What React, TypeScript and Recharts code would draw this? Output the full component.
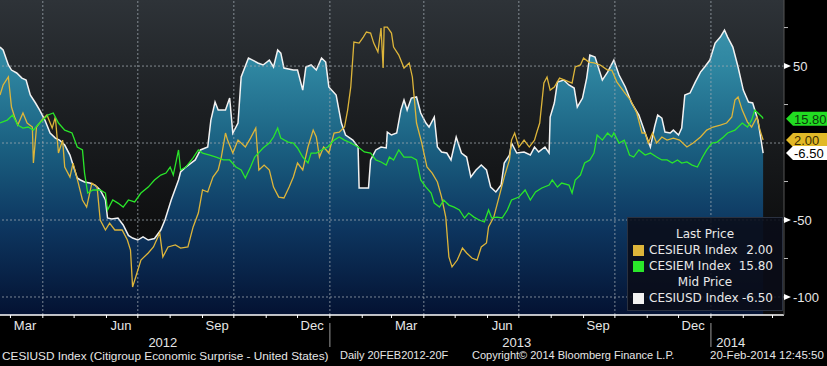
import React from "react";
import { ComposedChart, Area, Line, XAxis, YAxis, CartesianGrid, ReferenceLine } from "recharts";

// x values are days counted from 20 Feb 2012
const CESIUSD: [number, number][] = [
  [0, 62.3], [3, 60.4], [8, 50.7], [11, 47.4], [16, 45.5], [21, 42.2], [25, 40.9], [29, 31.2], [34, 26.0], [38, 21.4],
  [43, 14.9], [48, 6.5], [53, 3.2], [57, 1.9], [62, -1.3], [67, -7.8], [70, -14.3], [74, -22.7], [77, -24.0], [81, -25.3],
  [86, -26.0], [91, -27.3], [96, -30.5], [101, -37.0], [103, -48.7], [107, -49.4], [113, -48.7], [118, -53.2], [123, -60.0],
  [127, -61.7], [132, -63.0], [137, -61.0], [142, -63.0], [148, -62.0], [154, -56.5], [158, -50.0], [164, -37.0], [171, -24.0],
  [173, -18.8], [178, -15.6], [187, -11.0], [192, -4.5], [199, -2.6], [202, 14.9], [206, 26.6], [209, 21.4], [216, 21.4],
  [220, 29.2], [223, 6.5], [228, 13.0], [231, 42.9], [238, 55.2], [242, 53.9], [247, 52.0], [252, 50.7], [258, 53.9],
  [262, 49.4], [266, 60.4], [269, 58.4], [272, 48.7], [281, 47.4], [285, 47.4], [290, 34.4], [293, 49.4], [298, 50.7],
  [303, 47.4], [308, 55.2], [312, 52.6], [315, 36.4], [322, 31.2], [327, 13.0], [331, 5.2], [338, 1.9], [343, -2.6],
  [344, -29.2], [353, -29.2], [355, -11.0], [360, -4.5], [365, -2.6], [370, -3.2], [371, 7.1], [375, 5.2], [380, 6.5],
  [384, 21.4], [387, 27.9], [390, 21.4], [394, 29.2], [399, 29.9], [403, 19.5], [408, 13.0], [411, 10.4], [416, 16.9],
  [419, -2.6], [423, -5.8], [428, -6.5], [432, -11.0], [437, 3.9], [442, -6.5], [447, -9.1], [451, -22.1], [456, -17.5],
  [461, -14.3], [466, -17.5], [470, -28.6], [475, -31.8], [480, -27.3], [483, -13.0], [488, -7.8], [490, 0], [495, -6.5],
  [502, -5.8], [508, -7.8], [512, -2.6], [516, -5.8], [522, -2.6], [526, -6.5], [527, 16.9], [531, 26.0], [534, 39.6],
  [540, 40.9], [545, 37.7], [550, 35.7], [553, 23.4], [558, 29.2], [562, 42.2], [565, 57.1], [570, 55.8], [577, 40.9],
  [582, 46.1], [588, 53.9], [593, 44.2], [599, 36.4], [605, 26.0], [612, 18.2], [618, 6.5], [623, -2.6], [627, 10.4],
  [630, 18.2], [634, 16.2], [637, 7.1], [642, 6.5], [645, 8.4], [650, 5.2], [653, 9.7], [656, 31.2], [661, 32.5],
  [666, 39.6], [671, 46.1], [675, 49.4], [680, 53.9], [685, 64.9], [690, 68.8], [694, 73.4], [697, 68.8], [702, 62.3],
  [707, 49.4], [712, 34.4], [717, 26.6], [721, 26.0], [726, 14.9], [731, -6.5],
];

const CESIEUR: [number, number][] = [
  [0, 31.2], [3, 37.7], [8, 42.9], [11, 23.4], [14, 16.9], [17, 11.7], [22, 19.5], [26, 13.0], [31, 10.4], [32, -13.0],
  [35, 10.4], [40, 14.9], [45, 18.2], [50, 9.7], [53, 16.9], [56, -6.5], [60, 1.9], [62, -15.6], [67, -22.1], [70, -13.0],
  [75, -26.0], [79, -37.0], [83, -41.6], [88, -26.0], [93, -28.6], [96, -50.0], [101, -56.5], [105, -52.0], [110, -56.5],
  [117, -56.5], [122, -63.0], [125, -69.5], [127, -93.5], [130, -87.0], [135, -76.0], [142, -71.4], [147, -67.5],
  [153, -58.4], [156, -74.0], [161, -67.5], [168, -66.2], [173, -68.2], [180, -67.5], [185, -54.5], [190, -45.5],
  [194, -30.5], [199, -31.8], [204, -22.1], [209, -17.5], [212, -9.1], [216, 6.5], [218, 1.9], [223, -6.5], [228, 1.9],
  [235, -2.6], [240, 3.2], [245, 9.7], [248, -17.5], [253, -14.3], [258, -17.5], [262, -28.6], [267, -35.1], [272, -35.7],
  [277, -28.6], [281, -22.1], [285, -13.0], [290, -17.5], [295, -2.6], [300, 8.4], [303, 3.9], [306, -9.1], [310, -2.6],
  [315, -6.5], [320, 6.5], [325, 7.1], [330, 10.4], [333, 21.4], [336, 36.4], [338, 55.8], [339, 65.6], [344, 64.9],
  [348, 68.8], [351, 72.1], [355, 71.4], [358, 64.9], [362, 59.1], [365, 74.7], [367, 48.7], [368, 75.3], [371, 75.3],
  [375, 71.4], [377, 62.3], [382, 57.1], [387, 48.7], [392, 52.0], [395, 42.9], [397, 27.9], [399, 13.0], [404, 0],
  [409, -15.6], [414, -19.5], [419, -25.3], [423, -35.1], [427, -48.1], [430, -74.0], [433, -80.5], [438, -76.0],
  [443, -68.2], [447, -71.4], [452, -74.7], [457, -76.0], [461, -67.5], [466, -64.9], [468, -54.5], [473, -48.1],
  [478, -35.1], [483, -22.1], [488, -11.0], [490, 1.9], [493, 6.5], [497, -2.6], [502, 1.9], [507, -2.6], [512, 1.9],
  [514, 6.5], [517, 13.0], [521, 39.0], [524, 42.9], [527, 34.4], [531, 36.4], [536, 42.2], [541, 40.9], [548, 39.0],
  [551, 49.4], [556, 50.7], [559, 55.2], [564, 52.6], [569, 52.0], [575, 50.7], [582, 47.4], [586, 47.4], [591, 39.6],
  [598, 33.1], [604, 27.9], [610, 19.5], [615, 6.5], [618, 6.5], [621, 0], [625, 6.5], [629, 0], [634, 3.9], [639, 1.9],
  [645, 3.2], [651, 1.9], [658, -2.6], [664, 0], [671, 3.9], [677, 8.4], [683, 10.4], [690, 11.7], [696, 13.0],
  [701, 16.9], [704, 27.9], [707, 29.9], [711, 21.4], [716, 13.6], [720, 10.4], [725, 16.9], [728, 8.4], [731, 2.0],
];

const CESIEM: [number, number][] = [
  [0, 13.0], [7, 14.9], [12, 18.2], [17, 11.7], [22, 9.7], [27, 10.4], [32, 8.4], [36, 11.7], [41, 14.9], [46, 18.2],
  [51, 19.5], [56, 13.0], [62, 8.4], [69, 6.5], [74, -2.6], [79, -4.5], [81, -19.5], [84, -32.5], [89, -30.5], [96, -30.5],
  [101, -32.5], [103, -43.5], [108, -37.0], [113, -39.0], [118, -41.6], [123, -37.0], [129, -38.3], [135, -32.5],
  [142, -28.6], [148, -24.0], [154, -20.8], [159, -19.5], [163, -15.6], [166, -20.8], [171, -4.5], [173, -17.5],
  [178, -15.6], [185, -9.7], [190, -4.5], [194, -6.5], [201, -7.8], [207, -9.1], [214, -11.0], [220, -11.0], [226, -15.6],
  [231, -17.5], [235, -22.7], [240, -15.6], [244, -9.1], [252, -3.2], [258, 0], [262, 3.9], [266, 9.7], [269, 3.2],
  [276, 0.6], [281, 0], [285, -3.2], [290, -9.1], [295, -13.0], [298, -6.5], [303, -6.5], [308, -4.5], [314, -2.6],
  [320, 1.9], [325, 3.9], [330, 1.9], [336, 0], [343, -2.6], [349, -5.8], [355, -6.5], [360, -11.0], [365, -12.3],
  [370, -14.3], [373, -9.1], [377, -11.0], [382, -4.5], [387, -9.1], [394, -9.1], [399, -11.0], [403, -24.0], [408, -28.6],
  [413, -32.5], [416, -39.0], [421, -41.6], [425, -37.0], [430, -40.3], [435, -41.6], [440, -43.5], [445, -48.7],
  [449, -45.5], [454, -48.1], [459, -50.0], [464, -51.3], [468, -43.5], [471, -48.7], [476, -48.1], [481, -48.7],
  [486, -43.5], [490, -37.0], [497, -35.1], [503, -30.5], [508, -37.0], [513, -31.8], [519, -29.2], [526, -27.3],
  [529, -24.0], [534, -28.6], [538, -26.0], [545, -27.3], [548, -32.5], [551, -24.0], [556, -20.8], [560, -13.0],
  [565, -11.0], [569, -6.5], [572, 5.2], [577, 1.9], [582, 6.5], [586, 3.9], [588, 6.5], [593, 0], [598, 1.9], [603, -7.8],
  [607, -9.1], [612, -4.5], [618, -7.8], [623, -6.5], [629, -9.1], [634, -11.0], [639, -11.0], [644, -13.0], [649, -11.0],
  [653, -13.0], [658, -12.3], [663, -14.3], [668, -15.6], [673, -9.1], [677, -4.5], [682, 0], [687, 0.6], [693, 3.9],
  [697, 6.5], [704, 8.4], [711, 13.0], [716, 10.4], [720, 14.9], [723, 21.4], [726, 19.5], [730, 16.9], [731, 15.8],
];

const MONTH_STARTS = [10, 41, 71, 102, 132, 163, 194, 224, 255, 285, 316, 347, 375, 406, 436, 467, 497, 528, 559, 589, 620, 650, 681, 712, 740];
const YEAR_STARTS = [316, 681];
const QUARTER_GRID = [41, 132, 224, 316, 406, 497, 589, 681];
const MONTH_LABEL_DAYS = [24, 116, 208, 299, 389, 481, 573, 664];
const MONTH_LABELS = ["Mar", "Jun", "Sep", "Dec", "Mar", "Jun", "Sep", "Dec"];
const YEAR_LABEL_DAYS = [156, 495, 700];
const YEAR_LABELS = ["2012", "2013", "2014"];

const Y_GRID = [50, 0, -50, -100];
const Y_MAJOR = [50, -50, -100];
const Y_MINOR = [75, 25, -25, -75];
const X_DOMAIN: [number, number] = [0, 751];
const Y_DOMAIN: [number, number] = [-111.7, 92.9];

const FONT = "'Liberation Sans', Arial, sans-serif";
const WIDE_FONT = "'DejaVu Sans', Verdana, sans-serif";
const EUR_COLOR = "#ddb53a";
const EM_COLOR = "#2ae62a";
const USD_COLOR = "#f2f2f2";

const last = (s: [number, number][]) => s[s.length - 1][1];

const TAGS = [
  { value: last(CESIEM), fill: "#22dd22", text: "#0b3a0b" },
  { value: last(CESIEUR), fill: "#e2b928", text: "#3a2c00" },
  { value: last(CESIUSD), fill: "#ffffff", text: "#000000" },
];

const X_TICKS = [...MONTH_STARTS, ...MONTH_LABEL_DAYS, ...YEAR_LABEL_DAYS];
const Y_TICKS = [...Y_MINOR, ...Y_MAJOR, ...TAGS.map((t) => t.value)];

const rows = (s: [number, number][]) => s.map(([day, value]) => ({ day, value }));

function XTick(props: any) {
  const { x, y, payload } = props;
  const v = payload.value;
  const mi = MONTH_LABEL_DAYS.indexOf(v);
  if (mi >= 0) {
    return (
      <text x={x} y={y + 15} textAnchor="middle" fill="#e6e6e6" fontSize={13} fontFamily={FONT}>
        {MONTH_LABELS[mi]}
      </text>
    );
  }
  const yi = YEAR_LABEL_DAYS.indexOf(v);
  if (yi >= 0) {
    return (
      <text x={x} y={y + 32} textAnchor="middle" fill="#e6e6e6" fontSize={13} fontFamily={FONT}>
        {YEAR_LABELS[yi]}
      </text>
    );
  }
  return (
    <g>
      <line x1={x} x2={x} y1={y} y2={y + 3} stroke="#ffffff" />
      {YEAR_STARTS.includes(v) && <line x1={x} x2={x} y1={y + 8} y2={y + 32} stroke="#9a9a9a" />}
    </g>
  );
}

function YTick(props: any) {
  const { x, y, payload } = props;
  const v = payload.value;
  const tag = TAGS.find((t) => t.value === v);
  if (tag) {
    return (
      <g>
        <polygon
          points={`${x + 2},${y} ${x + 9},${y - 7} ${x + 43},${y - 7} ${x + 43},${y + 7} ${x + 9},${y + 7}`}
          fill={tag.fill}
        />
        <text x={x + 10} y={y + 5} fill={tag.text} fontSize={13} fontFamily={FONT}>
          {v.toFixed(2)}
        </text>
      </g>
    );
  }
  if (Y_MAJOR.includes(v)) {
    return (
      <g>
        <polygon points={`${x},${y - 3} ${x + 7},${y} ${x},${y + 3}`} fill="#ffffff" />
        <text x={x + 9} y={y + 5} fill="#e6e6e6" fontSize={13} fontFamily={FONT}>
          {v}
        </text>
      </g>
    );
  }
  return <line x1={x} x2={x + 4} y1={y} y2={y} stroke="#bbbbbb" />;
}

const legendRow: React.CSSProperties = { height: 16, lineHeight: "16px", display: "flex", alignItems: "center" };
const swatch = (c: string): React.CSSProperties => ({ width: 11, height: 11, background: c, marginLeft: 5, marginRight: 5 });
const footer: React.CSSProperties = { position: "absolute", top: 349, fontSize: 11, color: "#e6e6e6", whiteSpace: "nowrap" };

export default function App() {
  return (
    <div style={{ position: "absolute", left: 0, top: 0, width: 827, height: 366, background: "#000", overflow: "hidden", fontFamily: FONT }}>
      <ComposedChart width={827} height={366} margin={{ top: 0, right: 0, bottom: 0, left: 0 }}>
        <defs>
          <linearGradient id="bgFill" x1="0" y1="0" x2="0" y2="1">
            <stop offset="0%" stopColor="#2e3338" />
            <stop offset="35%" stopColor="#1c1f22" />
            <stop offset="70%" stopColor="#0f1011" />
            <stop offset="100%" stopColor="#0a0a0b" />
          </linearGradient>
          <linearGradient id="usdFill" gradientUnits="userSpaceOnUse" x1="0" y1="0" x2="0" y2="315">
            <stop offset="0%" stopColor="#4299b0" />
            <stop offset="22%" stopColor="#2e85a0" />
            <stop offset="47%" stopColor="#1a5f80" />
            <stop offset="72%" stopColor="#0d3660" />
            <stop offset="100%" stopColor="#041232" />
          </linearGradient>
        </defs>
        <CartesianGrid horizontal={false} vertical={false} fill="url(#bgFill)" fillOpacity={1} />
        <XAxis
          xAxisId={0}
          type="number"
          dataKey="day"
          domain={X_DOMAIN}
          allowDataOverflow
          ticks={X_TICKS}
          interval={0}
          tick={XTick}
          tickLine={false}
          tickSize={0}
          tickMargin={0}
          height={51}
          axisLine={{ stroke: "#ffffff", strokeWidth: 1.5 }}
        />
        <YAxis
          yAxisId={0}
          orientation="right"
          type="number"
          domain={Y_DOMAIN}
          allowDataOverflow
          ticks={Y_TICKS}
          interval={0}
          tick={YTick}
          tickLine={false}
          tickSize={0}
          tickMargin={0}
          width={43}
          axisLine={{ stroke: "#555555" }}
        />
        <Area
          data={rows(CESIUSD)}
          dataKey="value"
          type="linear"
          stroke={USD_COLOR}
          strokeWidth={1.5}
          fill="url(#usdFill)"
          fillOpacity={1}
          baseValue={Y_DOMAIN[0]}
          dot={false}
          activeDot={false}
          isAnimationActive={false}
        />
        {Y_GRID.map((v) => (
          <ReferenceLine key={`h${v}`} y={v} stroke="#a3abb3" strokeOpacity={0.75} strokeDasharray="2 2" />
        ))}
        {QUARTER_GRID.map((d) => (
          <ReferenceLine key={`v${d}`} x={d} stroke="#a3abb3" strokeOpacity={0.75} strokeDasharray="2 2" />
        ))}
        <Line
          data={rows(CESIEUR)}
          dataKey="value"
          type="linear"
          stroke={EUR_COLOR}
          strokeWidth={1.3}
          dot={false}
          activeDot={false}
          isAnimationActive={false}
        />
        <Line
          data={rows(CESIEM)}
          dataKey="value"
          type="linear"
          stroke={EM_COLOR}
          strokeWidth={1.3}
          dot={false}
          activeDot={false}
          isAnimationActive={false}
        />
      </ComposedChart>

      <div
        style={{
          position: "absolute",
          left: 627,
          top: 217,
          width: 156,
          height: 94,
          boxSizing: "border-box",
          paddingTop: 8,
          background: "rgba(10,13,24,0.88)",
          border: "1px solid #2a3140",
          color: "#e8e8e8",
          fontSize: 12,
          fontFamily: WIDE_FONT,
        }}
      >
        <div style={{ ...legendRow, justifyContent: "center" }}>Last Price</div>
        <div style={legendRow}>
          <span style={swatch(EUR_COLOR)} />
          <span style={{ flex: 1 }}>CESIEUR Index</span>
          <span style={{ marginRight: 9 }}>{last(CESIEUR).toFixed(2)}</span>
        </div>
        <div style={legendRow}>
          <span style={swatch(EM_COLOR)} />
          <span style={{ flex: 1 }}>CESIEM Index</span>
          <span style={{ marginRight: 9 }}>{last(CESIEM).toFixed(2)}</span>
        </div>
        <div style={{ ...legendRow, justifyContent: "center" }}>Mid Price</div>
        <div style={legendRow}>
          <span style={swatch(USD_COLOR)} />
          <span style={{ flex: 1 }}>CESIUSD Index</span>
          <span style={{ marginRight: 9 }}>{last(CESIUSD).toFixed(2)}</span>
        </div>
      </div>

      <div style={{ ...footer, left: 2, fontSize: 11.8 }}>CESIUSD Index (Citigroup Economic Surprise - United States)</div>
      <div style={{ ...footer, left: 340 }}>Daily 20FEB2012-20F</div>
      <div style={{ ...footer, left: 472 }}>Copyright© 2014 Bloomberg Finance L.P.</div>
      <div style={{ ...footer, left: 710, fontSize: 11.5 }}>20-Feb-2014 12:45:50</div>
    </div>
  );
}
